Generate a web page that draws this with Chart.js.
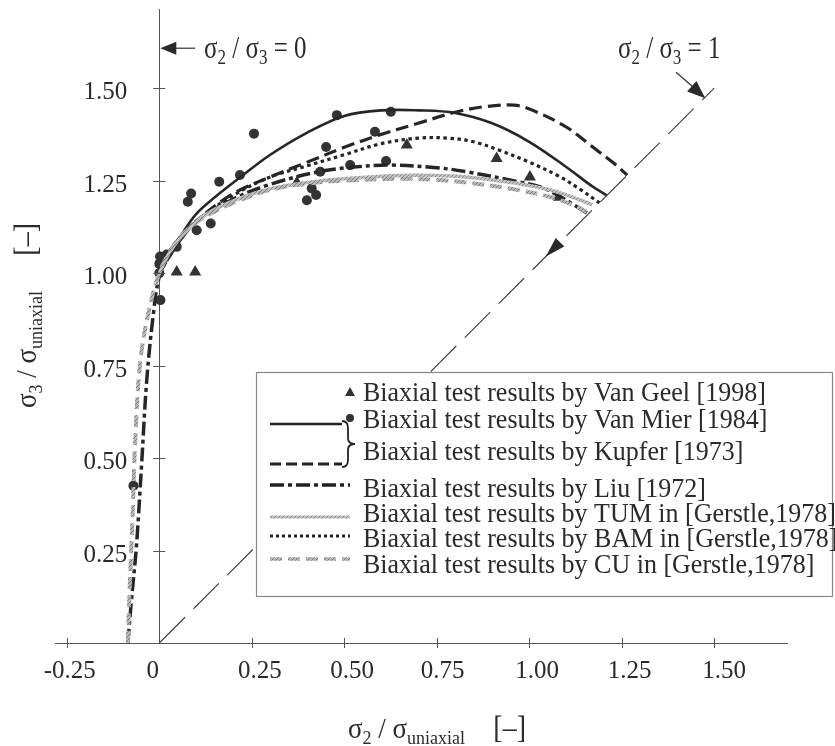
<!DOCTYPE html>
<html><head><meta charset="utf-8">
<script src="https://cdn.jsdelivr.net/npm/chart.js@4.4.1/dist/chart.umd.min.js"></script>
<style>html,body{margin:0;padding:0;background:#fff}#wrap{width:835px;height:746px;position:relative}</style>
</head><body><div id="wrap"><canvas id="c"></canvas></div>
<script>
// ---- axis ticks ----
const xTicks = [-0.25, 0, 0.25, 0.5, 0.75, 1.0, 1.25, 1.5];
const xTickLabels = ['-0.25', '0', '0.25', '0.50', '0.75', '1.00', '1.25', '1.50'];
const yTicks = [0.25, 0.5, 0.75, 1.0, 1.25, 1.5];
const yTickLabels = ['0.25', '0.50', '0.75', '1.00', '1.25', '1.50'];

// ---- series (sigma2/uniaxial, sigma3/uniaxial) ----
const vanGeelX = [0.047, 0.097, 0.372, 0.669, 0.912, 1.002, 1.08];
const vanGeelY = [1.003, 1.003, 1.244, 1.346, 1.31, 1.26, 1.205];

const vanMierX = [-0.07, 0.003, 0.0, 0.0, 0.002, 0.02, 0.047, 0.077, 0.086, 0.101, 0.139, 0.162, 0.218, 0.256, 0.399, 0.412, 0.424, 0.435, 0.451, 0.48, 0.516, 0.583, 0.613, 0.626];
const vanMierY = [0.425, 0.927, 1.0, 1.025, 1.045, 1.05, 1.071, 1.193, 1.215, 1.116, 1.134, 1.247, 1.265, 1.377, 1.197, 1.229, 1.211, 1.274, 1.341, 1.427, 1.292, 1.382, 1.303, 1.436];

const kupferSolidX = [0, 0.02, 0.05, 0.1, 0.15, 0.22, 0.3, 0.4, 0.5, 0.6, 0.7, 0.8, 0.9, 1.0, 1.1, 1.17, 1.21];
const kupferSolidY = [1.0, 1.05, 1.09, 1.16, 1.205, 1.26, 1.32, 1.38, 1.425, 1.44, 1.44, 1.433, 1.405, 1.355, 1.287, 1.235, 1.21];

const kupferDashX = [0, 0.05, 0.1, 0.2, 0.3, 0.4, 0.5, 0.6, 0.7, 0.8, 0.88, 0.96, 1.01, 1.1, 1.17, 1.23, 1.265];
const kupferDashY = [1.0, 1.08, 1.14, 1.215, 1.26, 1.3, 1.34, 1.375, 1.405, 1.435, 1.45, 1.454, 1.44, 1.395, 1.342, 1.296, 1.265];

const liuX = [-0.085, -0.075, -0.062, -0.048, -0.034, -0.016, 0, 0.03, 0.1, 0.2, 0.3, 0.43, 0.52, 0.62, 0.75, 0.83, 0.95, 1.03, 1.085, 1.13, 1.16];
const liuY = [0.0, 0.12, 0.26, 0.48, 0.71, 0.89, 0.99, 1.06, 1.14, 1.2, 1.24, 1.274, 1.286, 1.292, 1.285, 1.274, 1.251, 1.233, 1.206, 1.179, 1.16];

const tumX = [0, 0.03, 0.07, 0.12, 0.2, 0.3, 0.4, 0.5, 0.65, 0.8, 0.9, 0.97, 1.06, 1.14, 1.17];
const tumY = [1.0, 1.06, 1.11, 1.155, 1.195, 1.228, 1.245, 1.255, 1.264, 1.262, 1.252, 1.242, 1.224, 1.197, 1.185];

const bamX = [0, 0.05, 0.1, 0.2, 0.3, 0.4, 0.5, 0.6, 0.7, 0.78, 0.85, 0.92, 1.0, 1.08, 1.14, 1.19];
const bamY = [1.0, 1.08, 1.14, 1.21, 1.26, 1.29, 1.32, 1.35, 1.365, 1.365, 1.355, 1.332, 1.3, 1.262, 1.225, 1.19];

const cuX = [-0.085, -0.08, -0.072, -0.066, -0.052, -0.03, 0, 0.03, 0.065, 0.12, 0.2, 0.3, 0.4, 0.5, 0.65, 0.75, 0.83, 0.95, 1.06, 1.13, 1.155];
const cuY = [0.0, 0.15, 0.35, 0.53, 0.756, 0.89, 1.0, 1.06, 1.107, 1.15, 1.19, 1.225, 1.242, 1.25, 1.255, 1.252, 1.245, 1.228, 1.205, 1.179, 1.165];

const diagX = [0, 1.5];
const diagY = [0, 1.5];

const legendLabels = [
  'Biaxial test results by Van Geel [1998]',
  'Biaxial test results by Van Mier [1984]',
  'Biaxial test results by Kupfer [1973]',
  'Biaxial test results by Liu [1972]',
  'Biaxial test results by TUM in [Gerstle,1978]',
  'Biaxial test results by BAM in [Gerstle,1978]',
  'Biaxial test results by CU in [Gerstle,1978]'
];

const pts = (xs, ys) => xs.map((x, i) => ({x: x, y: ys[i]}));
const FONT = '"Liberation Serif", "Times New Roman", serif';
const TXT = '#2a2a2a';
const xLabelShift = [3, -6.5, 8, 8, 6, 8, 8, 10];

function hatch(bg, fg) {
  const c = document.createElement('canvas'); c.width = 4; c.height = 4;
  const g = c.getContext('2d');
  g.fillStyle = bg; g.fillRect(0, 0, 4, 4);
  g.fillStyle = fg;
  for (let i = 0; i < 4; i++) g.fillRect(i, 3 - i, 1, 1);
  return g.createPattern(c, 'repeat');
}
const tumPat = hatch('#c2c2c2', '#8c8c8c');
const cuPat = hatch('#b8b8b8', '#7a7a7a');

function lineDs(label, xs, ys, color, width, dash) {
  return {label, data: pts(xs, ys), showLine: true, borderColor: color, backgroundColor: color,
    borderWidth: width, borderDash: dash || [], pointRadius: 0, tension: 0.35, fill: false};
}

function drawRich(ctx, x, y, parts, size, subSize, drop) {
  let cx = x;
  for (const p of parts) {
    ctx.font = (p.sub ? subSize : size) + 'px ' + FONT;
    ctx.fillText(p.t, cx, y + (p.sub ? drop : 0));
    cx += ctx.measureText(p.t).width;
  }
  return cx;
}
function drawTall(ctx, x, y, parts, size, subSize, drop, k) {
  ctx.save(); ctx.translate(x, y); ctx.scale(1, k);
  drawRich(ctx, 0, 0, parts, size, subSize, drop);
  ctx.restore();
}
function head(ctx, tx, ty, fx, fy, len, hw) {
  const a = Math.atan2(ty - fy, tx - fx);
  ctx.beginPath();
  ctx.moveTo(tx, ty);
  ctx.lineTo(tx - len * Math.cos(a) + hw * Math.sin(a), ty - len * Math.sin(a) - hw * Math.cos(a));
  ctx.lineTo(tx - len * Math.cos(a) - hw * Math.sin(a), ty - len * Math.sin(a) + hw * Math.cos(a));
  ctx.closePath();
  ctx.fill();
}

const decor = {
  id: 'decor',
  afterDatasetsDraw(chart) {
    const ctx = chart.ctx, sx = chart.scales.x, sy = chart.scales.y;
    const X = v => sx.getPixelForValue(v), Y = v => sy.getPixelForValue(v);
    ctx.save();
    // crossing tick marks
    ctx.strokeStyle = '#555'; ctx.lineWidth = 1;
    const x0 = X(0), y0 = Y(0);
    xTicks.forEach(v => { if (v !== 0) { ctx.beginPath(); ctx.moveTo(Math.round(X(v)) + 0.5, y0 - 5); ctx.lineTo(Math.round(X(v)) + 0.5, y0 + 5); ctx.stroke(); } });
    yTicks.forEach(v => { ctx.beginPath(); ctx.moveTo(x0 - 6, Math.round(Y(v)) + 0.5); ctx.lineTo(x0 + 6, Math.round(Y(v)) + 0.5); ctx.stroke(); });

    // tick labels
    ctx.fillStyle = TXT; ctx.font = '25px ' + FONT; ctx.textBaseline = 'alphabetic';
    ctx.textAlign = 'center';
    xTicks.forEach((v, i) => ctx.fillText(xTickLabels[i], X(v) + xLabelShift[i], y0 + 34.5));
    ctx.textAlign = 'right';
    yTicks.forEach((v, i) => ctx.fillText(yTickLabels[i], x0 - 32, Y(v) + 11));

    ctx.textAlign = 'left'; ctx.strokeStyle = '#333';
    // annotation sigma2/sigma3 = 0
    ctx.lineWidth = 1.2;
    ctx.beginPath(); ctx.moveTo(X(0.097), Y(1.608)); ctx.lineTo(X(0) + 10, Y(1.608)); ctx.stroke();
    head(ctx, X(0) + 1, Y(1.608), X(0.097), Y(1.608), 16, 6.5);
    drawTall(ctx, X(0.121), Y(1.581), [{t: 'σ'}, {t: '2', sub: 1}, {t: ' / σ'}, {t: '3', sub: 1}, {t: ' = 0'}], 25, 17, 5, 1.25);
    // annotation sigma2/sigma3 = 1
    ctx.beginPath(); ctx.moveTo(X(1.397), Y(1.543)); ctx.lineTo(X(1.45), Y(1.497)); ctx.stroke();
    head(ctx, X(1.476), Y(1.473), X(1.397), Y(1.543), 18, 7);
    drawTall(ctx, X(1.24), Y(1.581), [{t: 'σ'}, {t: '2', sub: 1}, {t: ' / σ'}, {t: '3', sub: 1}, {t: ' = 1'}], 25, 17, 5, 1.25);
    // arrow on diagonal
    head(ctx, X(1.045), Y(1.045), X(1.2), Y(1.2), 20, 6);

    // axis titles
    ctx.fillStyle = TXT;
    drawTall(ctx, 348, 738, [{t: 'σ'}, {t: '2', sub: 1}, {t: ' / σ'}, {t: 'uniaxial', sub: 1}], 27, 18, 5, 1.1);
    ctx.save(); ctx.translate(526, 738); ctx.scale(1, 1.1);
    ctx.font = '28px ' + FONT; ctx.textAlign = 'right'; ctx.fillText('[–]', 0, 0);
    ctx.restore();
    ctx.save();
    ctx.translate(36, 408); ctx.rotate(-Math.PI / 2); ctx.textAlign = 'left';
    drawTall(ctx, 0, 0, [{t: 'σ'}, {t: '3', sub: 1}, {t: ' / σ'}, {t: 'uniaxial', sub: 1}], 27, 18, 5, 1.1);
    ctx.font = '28px ' + FONT; ctx.textAlign = 'right';
    ctx.scale(1, 1.1);
    ctx.fillText('[–]', 185, 0);
    ctx.restore();

    // legend
    const L = 256, T = 372, R = 832, B = 596;
    ctx.fillStyle = '#fff'; ctx.fillRect(L, T, R - L, B - T);
    ctx.strokeStyle = '#888'; ctx.lineWidth = 1.2; ctx.strokeRect(L + 0.5, T + 0.5, R - L, B - T);
    ctx.fillStyle = TXT; ctx.textAlign = 'left';
    const base = [401, 428, 460, 497, 522, 547, 573];
    legendLabels.forEach((t, i) => {
      ctx.save(); ctx.translate(363, base[i]); ctx.scale(1, 1.08);
      ctx.font = '26px ' + FONT; ctx.fillText(t, 0, 0); ctx.restore();
    });
    // markers
    ctx.fillStyle = '#333';
    ctx.beginPath(); ctx.moveTo(350, 387); ctx.lineTo(355, 396); ctx.lineTo(345, 396); ctx.closePath(); ctx.fill();
    ctx.beginPath(); ctx.arc(350, 418, 4, 0, Math.PI * 2); ctx.fill();
    const seg = (y, color, w, dash, x1) => { ctx.strokeStyle = color; ctx.lineWidth = w; ctx.setLineDash(dash); ctx.beginPath(); ctx.moveTo(270, y); ctx.lineTo(x1 || 350, y); ctx.stroke(); ctx.setLineDash([]); };
    seg(424, '#222', 2.5, [], 342);
    seg(464, '#222', 3, [11, 5], 342);
    seg(485, '#222', 3.5, [14, 4, 4, 4], 350);
    seg(517, tumPat, 3, [], 350);
    seg(536, '#222', 3, [3, 3], 350);
    seg(559, cuPat, 3.5, [12, 6], 350);
    // brace
    ctx.strokeStyle = '#222'; ctx.lineWidth = 1.8;
    ctx.beginPath();
    ctx.moveTo(342, 421);
    ctx.quadraticCurveTo(348, 421, 348, 428);
    ctx.lineTo(348, 438);
    ctx.quadraticCurveTo(348, 444, 355, 444);
    ctx.quadraticCurveTo(348, 444, 348, 450);
    ctx.lineTo(348, 460);
    ctx.quadraticCurveTo(348, 467, 342, 467);
    ctx.stroke();
    ctx.restore();
  }
};

new Chart(document.getElementById('c'), {
  type: 'scatter',
  data: {
    datasets: [
      lineDs('diag', diagX, diagY, '#444', 1.2, [36, 12]),
      lineDs('CU', cuX, cuY, cuPat, 4, [12, 6]),
      lineDs('TUM', tumX, tumY, tumPat, 3.5),
      lineDs('Liu', liuX, liuY, '#262626', 3.5, [14, 4, 4, 4]),
      lineDs('BAM', bamX, bamY, '#262626', 3.2, [3.5, 3.5]),
      lineDs('Kupfer dashed', kupferDashX, kupferDashY, '#262626', 3.2, [13, 6]),
      lineDs('Kupfer solid', kupferSolidX, kupferSolidY, '#262626', 2.6),
      {label: 'Van Mier', data: pts(vanMierX, vanMierY), pointStyle: 'circle', pointRadius: 5, backgroundColor: '#333', borderColor: '#333', borderWidth: 0, showLine: false},
      {label: 'Van Geel', data: pts(vanGeelX, vanGeelY), pointStyle: 'triangle', pointRadius: 7, backgroundColor: '#333', borderColor: '#333', borderWidth: 0, showLine: false}
    ]
  },
  options: {
    responsive: true, maintainAspectRatio: false, animation: false,
    layout: {padding: {left: 55, right: 48, top: 9, bottom: 103}},
    plugins: {legend: {display: false}, tooltip: {enabled: false}},
    events: [],
    scales: {
      x: {
        type: 'linear', min: -0.282, max: 1.697, position: {y: 0},
        grid: {display: false, drawTicks: false},
        border: {display: true, color: '#555', width: 1},
        afterBuildTicks: s => { s.ticks = xTicks.map(v => ({value: v})); },
        ticks: {display: false}
      },
      y: {
        type: 'linear', min: 0, max: 1.714, position: {x: 0},
        grid: {display: false, drawTicks: false},
        border: {display: true, color: '#555', width: 1},
        afterBuildTicks: s => { s.ticks = yTicks.map(v => ({value: v})); },
        ticks: {display: false}
      }
    }
  },
  plugins: [decor]
});
</script>
</body></html>
